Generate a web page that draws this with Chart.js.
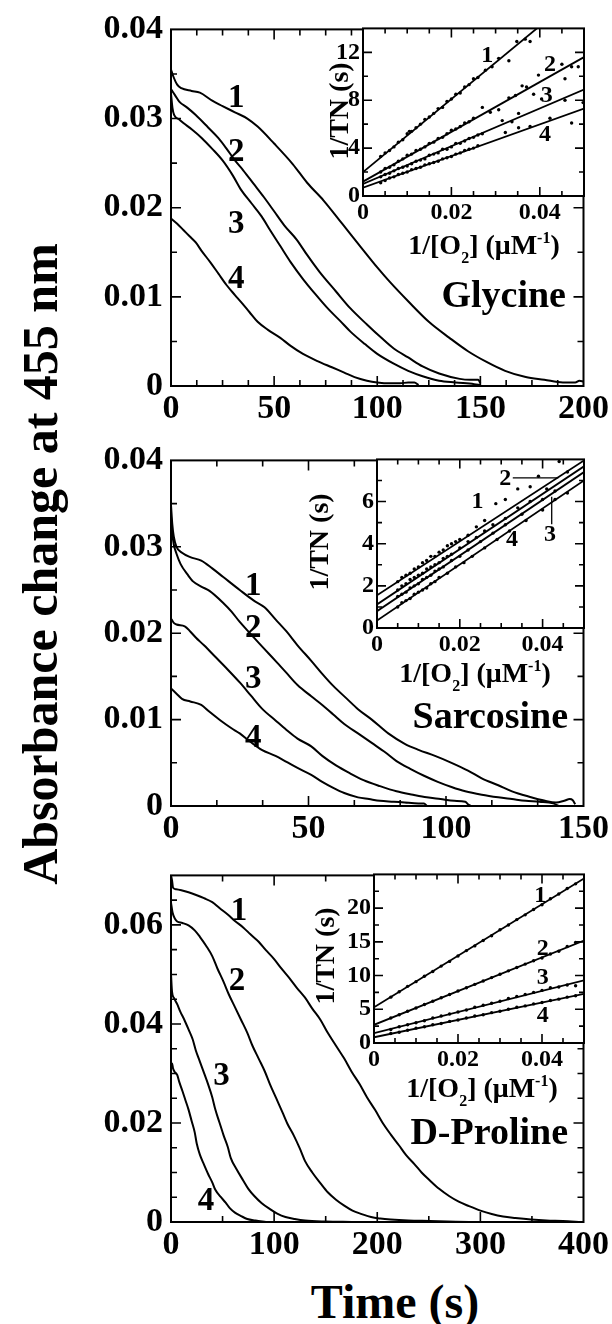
<!DOCTYPE html>
<html><head><meta charset="utf-8">
<script src="https://cdn.jsdelivr.net/npm/chart.js@4.4.0/dist/chart.umd.min.js"></script>
<style>
html,body{margin:0;padding:0;background:#fff;}
#wrap{position:relative;width:612px;height:1324px;overflow:hidden;background:#fff;}
canvas{position:absolute;}
.t{position:absolute;font-family:"Liberation Serif","Times New Roman",serif;font-weight:bold;color:#000;white-space:nowrap;text-align:center;}
#ytitle{left:-310px;top:534px;width:700px;height:60px;line-height:60px;font-size:50px;transform:rotate(-90deg);transform-origin:50% 50%;}
#xtitle{left:245px;top:1274px;width:300px;height:56px;line-height:56px;font-size:48px;}
</style></head><body><div id="wrap">
<div class="t" id="ytitle">Absorbance change at 455 nm</div>
<div class="t" id="xtitle">Time (s)</div>
</div>
<script>
// ---------------- DATA ----------------
// Glycine main panel: [time (s), absorbance change]
const glycine1 = [[0,0.0355],[1,0.0348],[3,0.0338],[5,0.0334],[10,0.0331],[14,0.0329],[20,0.0320],[25,0.0314],[31,0.0307],[37,0.0300],[42,0.0291],[50,0.0272],[59,0.0249],[66,0.0228],[74,0.0208],[83,0.0182],[93,0.0153],[100,0.0133],[106,0.0117],[115,0.0095],[125,0.0072],[135,0.0054],[144,0.0039],[153,0.0027],[162,0.0017],[172,0.0010],[181,0.0007],[190,0.0004],[196,0.0004],[198,0.0006],[200,0.0005]];
const glycine2 = [[0,0.0333],[2,0.0326],[4,0.0319],[8,0.0312],[12,0.0304],[18,0.0290],[23,0.0278],[27,0.0266],[31,0.0253],[35,0.0242],[40,0.0227],[45,0.0212],[50,0.0196],[55,0.0180],[61,0.0164],[66,0.0147],[72,0.0128],[80,0.0106],[87,0.0087],[95,0.0069],[102,0.0054],[108,0.0042],[115,0.0032],[122,0.0022],[130,0.0014],[140,0.0008],[145,0.0007],[149,0.0007],[150,0.0003]];
const glycine3 = [[0,0.0328],[0.7,0.0312],[1.5,0.0304],[4,0.0299],[6,0.0295],[10,0.0288],[15,0.0278],[20,0.0266],[25,0.0253],[30,0.0236],[34,0.0220],[39,0.0205],[44,0.0190],[48,0.0175],[53,0.0157],[58,0.0139],[64,0.0120],[70,0.0103],[76,0.0087],[82,0.0073],[87,0.0061],[94,0.0047],[100,0.0036],[108,0.0025],[115,0.0017],[122,0.0011],[130,0.0006],[138,0.0004],[147,0.0002],[150,0.0001]];
const glycine4 = [[0,0.0188],[3,0.0182],[6,0.0175],[9,0.0168],[12,0.0161],[15,0.0151],[19,0.0139],[23,0.0126],[27,0.0113],[31,0.0102],[34,0.0094],[38,0.0083],[42,0.0072],[47,0.0063],[53,0.0054],[58,0.0045],[64,0.0036],[71,0.0028],[78,0.0021],[84,0.0015],[89,0.0010],[95,0.0006],[100,0.0004],[106,0.0003],[111,0.0003],[115,0.0004],[118,0.0004],[120,0.0001]];
// Sarcosine main panel
const sarcosine1 = [[0,0.0348],[0.5,0.0325],[1,0.0312],[2,0.0300],[4,0.0293],[7,0.0288],[11,0.0284],[15,0.0275],[19,0.0265],[25,0.0250],[30,0.0238],[34,0.0230],[38,0.0216],[42,0.0202],[46,0.0186],[51,0.0168],[55,0.0153],[59,0.0139],[64,0.0124],[68,0.0112],[73,0.0100],[79,0.0084],[85,0.0072],[90,0.0065],[96,0.0058],[102,0.0050],[108,0.0041],[113,0.0032],[119,0.0024],[124,0.0017],[130,0.0011],[136,0.0006],[140,0.0004],[143,0.0006],[145,0.0008],[146,0.0007],[147,0.0002]];
const sarcosine2 = [[0,0.0335],[0.5,0.0315],[1,0.0303],[2,0.0292],[3.5,0.0280],[6,0.0268],[8,0.0260],[11,0.0254],[14,0.0249],[19,0.0235],[22,0.0225],[25,0.0213],[29,0.0199],[33,0.0185],[38,0.0168],[42,0.0154],[46,0.0140],[51,0.0127],[55,0.0117],[59,0.0106],[63,0.0095],[68,0.0084],[73,0.0073],[78,0.0062],[82,0.0052],[87,0.0043],[92,0.0035],[97,0.0028],[102,0.0022],[107,0.0017],[113,0.0013],[119,0.0010],[124,0.0008],[129,0.0006],[134,0.0005],[139,0.0003],[141,0.0000]];
const sarcosine3 = [[0,0.0217],[1,0.0212],[2,0.0210],[5,0.0208],[7,0.0202],[9,0.0195],[12,0.0186],[16,0.0173],[20,0.0160],[25,0.0143],[29,0.0128],[33,0.0113],[38,0.0099],[42,0.0088],[46,0.0078],[51,0.0069],[55,0.0058],[60,0.0047],[65,0.0038],[70,0.0030],[76,0.0023],[82,0.0017],[88,0.0013],[93,0.0010],[98,0.0008],[103,0.0006],[107,0.0005],[108,0.0002],[109,0.0000]];
const sarcosine4 = [[0,0.0136],[2,0.0130],[4,0.0124],[7,0.0121],[11,0.0117],[14,0.0109],[18,0.0099],[22,0.0090],[25,0.0084],[29,0.0074],[33,0.0065],[38,0.0058],[42,0.0051],[46,0.0044],[51,0.0036],[55,0.0028],[59,0.0021],[63,0.0015],[68,0.0010],[72,0.0008],[76,0.0006],[81,0.0005],[85,0.0004],[90,0.0003],[92,0.0003],[93,0.0000]];
// D-Proline main panel
const proline1 = [[0,0.0700],[1,0.0690],[2,0.0675],[5,0.0672],[10,0.0670],[17,0.0666],[25,0.0660],[32,0.0654],[40,0.0646],[47,0.0634],[55,0.0621],[62,0.0608],[70,0.0595],[77,0.0581],[85,0.0566],[92,0.0549],[100,0.0531],[107,0.0512],[115,0.0492],[122,0.0473],[130,0.0453],[137,0.0431],[145,0.0408],[152,0.0382],[160,0.0356],[168,0.0330],[175,0.0304],[183,0.0278],[190,0.0252],[198,0.0226],[205,0.0201],[213,0.0177],[221,0.0155],[228,0.0135],[236,0.0117],[243,0.0100],[251,0.0084],[260,0.0067],[270,0.0052],[279,0.0041],[289,0.0032],[300,0.0023],[311,0.0016],[322,0.0011],[334,0.0008],[349,0.0005],[364,0.0003],[380,0.0002],[398,0.0000]];
const proline2 = [[0,0.0645],[1.5,0.0625],[4,0.0612],[6,0.0607],[11,0.0604],[17,0.0599],[23,0.0589],[28,0.0576],[34,0.0558],[40,0.0537],[45,0.0512],[51,0.0485],[56,0.0460],[62,0.0434],[68,0.0408],[74,0.0382],[79,0.0356],[85,0.0330],[91,0.0304],[96,0.0278],[102,0.0250],[108,0.0222],[113,0.0198],[119,0.0175],[125,0.0148],[130,0.0123],[137,0.0100],[145,0.0078],[152,0.0060],[160,0.0045],[168,0.0033],[176,0.0023],[185,0.0016],[194,0.0010],[203,0.0007],[213,0.0005],[230,0.0003],[251,0.0002],[289,0.0000]];
const proline3 = [[0,0.0500],[1,0.0465],[3,0.0452],[6,0.0440],[9,0.0425],[13,0.0408],[17,0.0389],[21,0.0369],[24,0.0347],[28,0.0324],[32,0.0301],[36,0.0278],[40,0.0252],[43,0.0227],[47,0.0201],[51,0.0175],[55,0.0152],[58,0.0129],[64,0.0105],[70,0.0084],[75,0.0067],[81,0.0052],[88,0.0038],[96,0.0026],[103,0.0017],[111,0.0010],[120,0.0006],[130,0.0003],[150,0.0001],[175,0.0000]];
const proline4 = [[0,0.0315],[1,0.0320],[2,0.0310],[4,0.0302],[6,0.0297],[8,0.0283],[11,0.0265],[14,0.0246],[17,0.0227],[20,0.0204],[23,0.0181],[25,0.0158],[28,0.0136],[32,0.0116],[36,0.0097],[40,0.0080],[43,0.0065],[48,0.0051],[53,0.0039],[57,0.0028],[62,0.0019],[68,0.0012],[74,0.0006],[82,0.0003],[92,0.0000]];

// Insets: [1/[O2] (uM^-1), 1/TN (s)]
const glyDots1 = [[0.004,3.3],[0.005,3.6],[0.006,3.8],[0.007,4.1],[0.008,4.5],[0.009,4.7],[0.010,5.2],[0.0105,5.4],[0.011,5.4],[0.012,5.7],[0.013,6.0],[0.014,6.4],[0.015,6.6],[0.016,6.9],[0.017,7.3],[0.018,7.4],[0.019,7.9],[0.020,8.1],[0.021,8.5],[0.022,8.6],[0.023,9.1],[0.024,9.3],[0.025,9.8],[0.026,9.9],[0.0277,10.5],[0.0292,10.8],[0.0307,11.5],[0.033,11.3],[0.0348,12.9],[0.0367,13.1],[0.0378,12.9]];
const glyDots2 = [[0.004,2.0],[0.005,2.3],[0.006,2.4],[0.007,2.6],[0.008,2.9],[0.009,3.1],[0.010,3.4],[0.011,3.5],[0.012,3.8],[0.013,3.9],[0.014,4.1],[0.015,4.4],[0.016,4.5],[0.017,4.8],[0.018,4.9],[0.019,5.2],[0.020,5.5],[0.021,5.6],[0.022,5.8],[0.023,6.1],[0.024,6.2],[0.025,6.5],[0.027,7.4],[0.0288,7.0],[0.0307,7.2],[0.033,8.2],[0.0345,8.4],[0.036,9.2],[0.037,9.1],[0.0397,10.1],[0.045,11.0],[0.0457,9.8],[0.0472,10.8],[0.0487,10.8]];
const glyDots3 = [[0.004,1.6],[0.005,1.8],[0.006,1.9],[0.007,2.1],[0.008,2.3],[0.009,2.4],[0.010,2.5],[0.011,2.7],[0.012,2.9],[0.013,3.0],[0.014,3.1],[0.015,3.4],[0.016,3.5],[0.017,3.6],[0.018,3.9],[0.019,3.9],[0.020,4.1],[0.021,4.4],[0.022,4.4],[0.023,4.6],[0.024,4.8],[0.025,4.9],[0.026,5.1],[0.027,5.2],[0.0315,6.3],[0.0337,6.2],[0.0352,6.9],[0.0386,8.5],[0.0404,8.1],[0.0457,8.0],[0.0498,7.8]];
const glyDots4 = [[0.004,1.1],[0.005,1.3],[0.006,1.5],[0.007,1.6],[0.008,1.8],[0.009,1.9],[0.010,2.0],[0.011,2.2],[0.012,2.3],[0.013,2.4],[0.014,2.6],[0.015,2.7],[0.016,2.8],[0.017,2.9],[0.018,3.1],[0.019,3.2],[0.020,3.3],[0.021,3.5],[0.022,3.6],[0.023,3.8],[0.024,3.9],[0.025,4.0],[0.026,4.2],[0.0322,5.3],[0.0352,5.7],[0.0378,5.8],[0.0423,6.5],[0.0472,6.1]];
const glyFit1 = [[0,2.0],[0.05,17.25]];
const glyFit2 = [[0,1.2],[0.05,11.6]];
const glyFit3 = [[0,1.0],[0.05,8.9]];
const glyFit4 = [[0,0.7],[0.05,7.3]];

const sarDots1 = [[0.005,2.2],[0.006,2.4],[0.007,2.5],[0.008,2.6],[0.009,2.8],[0.010,2.9],[0.011,3.1],[0.012,3.2],[0.013,3.4],[0.014,3.4],[0.015,3.6],[0.016,3.7],[0.017,3.9],[0.018,4.0],[0.019,4.1],[0.020,4.2],[0.022,4.4],[0.024,4.8],[0.026,5.1],[0.0287,5.9],[0.031,6.1],[0.034,6.6],[0.037,6.7],[0.039,7.2],[0.044,7.9]];
const sarDots2 = [[0.005,1.8],[0.006,2.0],[0.007,2.1],[0.008,2.3],[0.009,2.4],[0.010,2.5],[0.011,2.6],[0.012,2.8],[0.013,2.9],[0.014,3.0],[0.015,3.1],[0.016,3.3],[0.017,3.4],[0.018,3.5],[0.020,3.8],[0.022,4.1],[0.024,4.3],[0.026,4.6],[0.028,4.9],[0.031,5.2],[0.034,5.7],[0.037,6.0],[0.041,6.6],[0.046,7.4]];
const sarDots3 = [[0.005,1.5],[0.006,1.6],[0.007,1.7],[0.008,1.9],[0.009,2.0],[0.010,2.1],[0.011,2.3],[0.012,2.4],[0.013,2.5],[0.014,2.7],[0.015,2.8],[0.016,2.9],[0.018,3.2],[0.020,3.4],[0.022,3.7],[0.025,4.1],[0.028,4.5],[0.031,4.9],[0.035,5.4],[0.040,6.1],[0.043,6.5]];
const sarDots4 = [[0.005,1.0],[0.006,1.2],[0.007,1.3],[0.008,1.4],[0.009,1.6],[0.010,1.7],[0.011,1.8],[0.012,1.9],[0.013,2.1],[0.014,2.2],[0.015,2.4],[0.017,2.6],[0.019,2.9],[0.021,3.1],[0.023,3.4],[0.026,3.8],[0.029,4.2],[0.032,4.6],[0.036,5.1],[0.040,5.6],[0.043,6.1],[0.046,6.4]];
const sarFit1 = [[0,1.55],[0.05,7.95]];
const sarFit2 = [[0,1.12],[0.05,7.67]];
const sarFit3 = [[0,0.8],[0.05,7.4]];
const sarFit4 = [[0,0.35],[0.05,7.0]];

const proDots1 = [[0.004,6.8],[0.006,7.6],[0.008,8.4],[0.010,9.1],[0.012,9.9],[0.014,10.6],[0.016,11.4],[0.018,12.1],[0.020,12.9],[0.022,13.7],[0.024,14.4],[0.026,15.2],[0.028,15.9],[0.030,16.8],[0.032,17.5],[0.034,18.3],[0.036,19.0],[0.038,19.8],[0.040,20.5],[0.042,21.4],[0.044,22.1],[0.046,22.9],[0.048,23.6]];
const proDots2 = [[0.004,3.7],[0.006,4.2],[0.008,4.7],[0.010,5.2],[0.012,5.7],[0.014,6.2],[0.016,6.7],[0.018,7.2],[0.020,7.7],[0.022,8.2],[0.024,8.7],[0.026,9.2],[0.028,9.7],[0.030,10.2],[0.032,10.7],[0.034,11.2],[0.036,11.7],[0.038,12.2],[0.040,12.6],[0.042,13.2],[0.044,13.6],[0.046,14.3],[0.048,14.9]];
const proDots3 = [[0.004,2.0],[0.006,2.4],[0.008,2.7],[0.010,3.0],[0.012,3.3],[0.014,3.7],[0.016,4.0],[0.018,4.3],[0.020,4.6],[0.022,4.9],[0.024,5.3],[0.026,5.6],[0.028,5.9],[0.030,6.2],[0.032,6.6],[0.034,6.9],[0.036,7.2],[0.038,7.5],[0.040,7.8],[0.042,8.2],[0.044,8.3],[0.046,8.6],[0.048,8.5]];
const proDots4 = [[0.004,1.4],[0.006,1.6],[0.008,1.9],[0.010,2.2],[0.012,2.4],[0.014,2.7],[0.016,2.9],[0.018,3.2],[0.020,3.4],[0.022,3.7],[0.024,4.0],[0.026,4.2],[0.028,4.5],[0.030,4.7],[0.032,5.0],[0.034,5.3],[0.036,5.5],[0.038,5.8],[0.040,6.0],[0.042,6.3],[0.044,6.5],[0.046,6.8],[0.048,7.0]];
const proFit1 = [[0,5.3],[0.05,24.4]];
const proFit2 = [[0,2.7],[0.05,15.2]];
const proFit3 = [[0,1.45],[0.05,9.3]];
const proFit4 = [[0,0.85],[0.05,7.3]];

// curve numbers / panel names (data coordinates)
const glyNotes = [[31.6,0.0322,'1'],[31.6,0.0262,'2'],[31.6,0.0181,'3'],[31.6,0.0120,'4']];
const sarNotes = [[29.9,0.0254,'1'],[29.9,0.0206,'2'],[29.9,0.0147,'3'],[29.9,0.0078,'4']];
const proNotes = [[66,0.0628,'1'],[64,0.0485,'2'],[49,0.0294,'3'],[34,0.0042,'4']];
const glyInsetNotes = [[0.0281,11.7,'1'],[0.0423,11.0,'2'],[0.0416,8.4,'3'],[0.0412,5.1,'4']];
const sarInsetNotes = [[0.0243,6.0,'1'],[0.031,7.1,'2'],[0.0418,4.4,'3'],[0.0326,4.2,'4']];
const proInsetNotes = [[0.0396,21.9,'1'],[0.0402,14.0,'2'],[0.0402,9.7,'3'],[0.0402,4.0,'4']];
const sarLeaders = [[[0.0328,7.12],[0.0438,7.12]],[[0.0422,6.23],[0.0422,4.92]]];

// ---------------- RENDER ----------------
const SERIF = '"Liberation Serif","Times New Roman",serif';
const wrap = document.getElementById('wrap');
Chart.defaults.color = '#000';
function isMult(v,m){const r=v/m;return Math.abs(r-Math.round(r))<1e-6;}
function pts(a){return a.map(p=>({x:p[0],y:p[1]}));}
function makeCanvas(l,t,w,h){const c=document.createElement('canvas');c.width=w;c.height=h;c.style.left=l+'px';c.style.top=t+'px';c.style.width=w+'px';c.style.height=h+'px';wrap.appendChild(c);return c;}

function framePlugin(major,minor,fillWhite){
  return {id:'frame',
    beforeDraw(chart){ if(!fillWhite) return; const a=chart.chartArea,c=chart.ctx; c.save(); c.fillStyle='#fff'; c.fillRect(a.left,a.top,a.right-a.left,a.bottom-a.top); c.restore(); },
    afterDatasetsDraw(chart){
      const c=chart.ctx,a=chart.chartArea,xs=chart.scales.x,ys=chart.scales.y;
      c.save(); c.strokeStyle='#000'; c.lineWidth=1.6; c.beginPath();
      xs.ticks.forEach(t=>{ const span=xs.max-xs.min; if(t.value<=xs.min+span*1e-6||t.value>=xs.max-span*1e-6) return;
        const p=xs.getPixelForValue(t.value), L=(t.label!=='')?major:minor;
        c.moveTo(p,a.bottom); c.lineTo(p,a.bottom-L); c.moveTo(p,a.top); c.lineTo(p,a.top+L); });
      ys.ticks.forEach(t=>{ const span=ys.max-ys.min; if(t.value<=ys.min+span*1e-6||t.value>=ys.max-span*1e-6) return;
        const p=ys.getPixelForValue(t.value), L=(t.label!=='')?major:minor;
        c.moveTo(a.left,p); c.lineTo(a.left+L,p); c.moveTo(a.right,p); c.lineTo(a.right-L,p); });
      c.stroke();
      c.lineWidth=2; c.strokeRect(a.left,a.top,a.right-a.left,a.bottom-a.top);
      c.restore();
    }};
}
function notesPlugin(notes,size,extra){
  return {id:'notes', afterDatasetsDraw(chart){
    const c=chart.ctx,xs=chart.scales.x,ys=chart.scales.y;
    c.save(); c.fillStyle='#000'; c.textBaseline='middle'; c.textAlign='center'; c.font='bold '+size+'px '+SERIF;
    notes.forEach(n=>c.fillText(n[2],xs.getPixelForValue(n[0]),ys.getPixelForValue(n[1])));
    if(extra) extra(chart,c);
    c.restore();
  }};
}
function axis(min,max,step,major,fmt,size,pad,fitFn,skipMax){
  return {type:'linear',min:min,max:max,afterFit:fitFn,
    grid:{display:false,drawTicks:false},border:{display:false},
    ticks:{stepSize:step,autoSkip:false,maxRotation:0,minRotation:0,padding:pad,color:'#000',
      font:{family:SERIF,size:size,weight:'bold'},
      callback:v=>(isMult(v,major)&&!(skipMax&&Math.abs(v-max)<1e-9))?fmt(v):''}};
}
const fmtDec=v=>Math.abs(v)<1e-12?'0':v.toFixed(2);
const fmtInt=v=>String(Math.round(v));

function mainChart(box,x,y,curves,notes,name){
  const top=box.T-22, h=(box.B-box.T)+22+50;
  const cv=makeCanvas(0,top,612,h);
  new Chart(cv,{type:'line',
    data:{datasets:curves.map(cu=>({data:pts(cu),borderColor:'#000',borderWidth:2,pointRadius:0,cubicInterpolationMode:'monotone',fill:false}))},
    options:{responsive:false,animation:false,devicePixelRatio:1,
      layout:{padding:{left:0,top:22,right:612-box.R,bottom:0}},
      plugins:{legend:{display:false},tooltip:{enabled:false}},
      scales:{x:axis(0,x.max,x.step,x.major,fmtInt,34,3,s=>{s.height=50;},false),
              y:axis(0,y.max,y.step,y.major,fmtDec,34,8,s=>{s.width=box.L;},false)}},
    plugins:[framePlugin(10,6,false),notesPlugin(notes,33,(chart,c)=>{
      c.font='bold 38px '+SERIF; c.textAlign='right';
      c.fillText(name[2],chart.scales.x.getPixelForValue(name[0]),chart.scales.y.getPixelForValue(name[1]));
    })]});
}
function insetChart(box,x,y,dots,fits,notes,yTitle,xTitle,leaders){
  const ox=box.L-80, oy=box.T-12;
  const cv=makeCanvas(ox,oy,(box.R-box.L)+83,(box.B-box.T)+12+75);
  const ds=[];
  dots.forEach(d=>ds.push({type:'scatter',data:pts(d),pointRadius:1.7,pointBackgroundColor:'#000',pointBorderWidth:0,showLine:false}));
  fits.forEach(f=>ds.push({type:'line',data:pts(f),borderColor:'#000',borderWidth:1.8,pointRadius:0,fill:false}));
  new Chart(cv,{type:'scatter',data:{datasets:ds},
    options:{responsive:false,animation:false,devicePixelRatio:1,
      layout:{padding:{left:0,top:12,right:3,bottom:0}},
      plugins:{legend:{display:false},tooltip:{enabled:false}},
      scales:{x:axis(0,x.max,x.step,x.major,fmtDec,24,2,s=>{s.height=75;},true),
              y:axis(0,y.max,y.step,y.major,fmtInt,24,3,s=>{s.width=80;},true)}},
    plugins:[framePlugin(9,5,true),notesPlugin(notes,24,(chart,c)=>{
      const xs=chart.scales.x, ys=chart.scales.y;
      if(leaders){ c.strokeStyle='#000'; c.lineWidth=1.3; c.beginPath();
        leaders.forEach(l=>{c.moveTo(xs.getPixelForValue(l[0][0]),ys.getPixelForValue(l[0][1])); c.lineTo(xs.getPixelForValue(l[1][0]),ys.getPixelForValue(l[1][1]));}); c.stroke(); }
      // y title
      c.save(); c.translate(yTitle[0]-ox,yTitle[1]-oy); c.rotate(-Math.PI/2);
      c.font='bold 28px '+SERIF; c.textAlign='center'; c.textBaseline='middle'; c.fillText('1/TN (s)',0,0); c.restore();
      // x title with subscript / superscript
      const big='bold 28px '+SERIF, sm='bold 16px '+SERIF;
      const parts=[['1/[O',big,0],['2',sm,9],['] (\u03bcM',big,0],['-1',sm,-11],[')',big,0]];
      let w=0; parts.forEach(p=>{c.font=p[1]; w+=c.measureText(p[0]).width;});
      let px=xTitle[0]-ox-w/2; const base=xTitle[1]-oy+9;
      c.textAlign='left'; c.textBaseline='alphabetic';
      parts.forEach(p=>{c.font=p[1]; c.fillText(p[0],px,base+p[2]); px+=c.measureText(p[0]).width;});
    })]});
}

// Glycine
mainChart({L:171,R:585,T:23,B:386},{max:200,step:12.5,major:50},{max:0.04,step:0.005,major:0.01},
  [glycine1,glycine2,glycine3,glycine4],glyNotes,[191.5,0.0100,'Glycine']);
insetChart({L:363,R:585,T:23,B:196},{max:0.05,step:0.005,major:0.02},{max:14,step:2,major:4},
  [glyDots1,glyDots2,glyDots3,glyDots4],[glyFit1,glyFit2,glyFit3,glyFit4],glyInsetNotes,[341,111],[484,245],null);
// Sarcosine
mainChart({L:171,R:585,T:454,B:806},{max:150,step:50/3,major:50},{max:0.04,step:0.005,major:0.01},
  [sarcosine1,sarcosine2,sarcosine3,sarcosine4],sarNotes,[144.4,0.0102,'Sarcosine']);
insetChart({L:377,R:585,T:454,B:628},{max:0.05,step:0.005,major:0.02},{max:8,step:1,major:2},
  [sarDots1,sarDots2,sarDots3,sarDots4],[sarFit1,sarFit2,sarFit3,sarFit4],sarInsetNotes,[321,542],[475,673],sarLeaders);
// D-Proline
mainChart({L:171,R:585,T:869,B:1222},{max:400,step:50,major:100},{max:0.07,step:0.005,major:0.02},
  [proline1,proline2,proline3,proline4],proNotes,[385,0.0178,'D-Proline']);
insetChart({L:374,R:585,T:869,B:1043},{max:0.05,step:0.005,major:0.02},{max:25,step:2.5,major:5},
  [proDots1,proDots2,proDots3,proDots4],[proFit1,proFit2,proFit3,proFit4],proInsetNotes,[327,956],[482,1088],null);
</script>
</body></html>
